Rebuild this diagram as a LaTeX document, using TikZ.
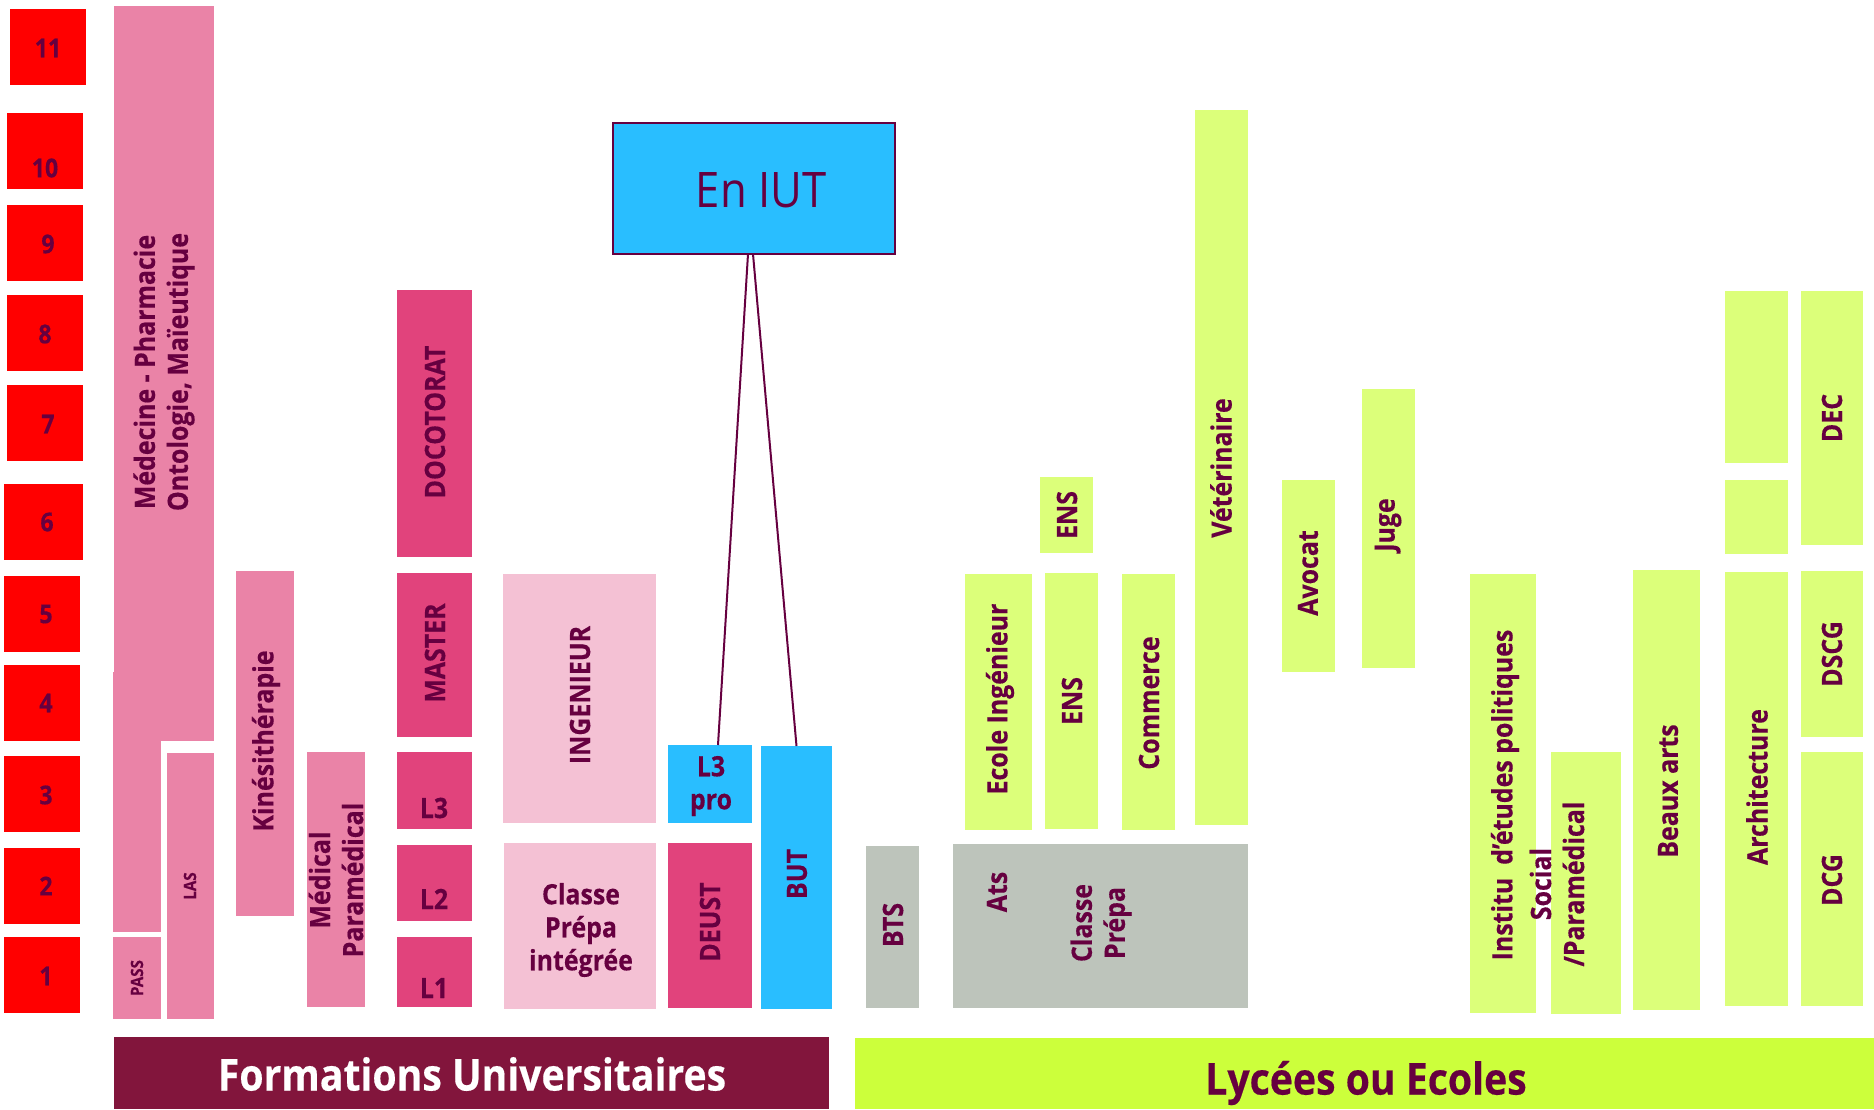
\documentclass[tikz,border=0pt]{standalone}
\usepackage{fontspec}
\setmainfont{Open Sans}[FakeStretch=0.89,BoldFeatures={FakeBold=0.4}]
\usetikzlibrary{fit,calc}

\definecolor{ink}{RGB}{102,0,64}
\definecolor{yearred}{RGB}{255,0,0}
\definecolor{pinkmed}{RGB}{234,131,167}
\definecolor{pinkuni}{RGB}{225,67,124}
\definecolor{pinklight}{RGB}{244,193,212}
\definecolor{iutblue}{RGB}{41,190,255}
\definecolor{greybox}{RGB}{189,196,187}
\definecolor{limebox}{RGB}{220,255,122}
\definecolor{limebar}{RGB}{204,255,59}
\definecolor{maroonbar}{RGB}{130,21,60}

% a filled block given by two opposite corners (pixel units, y downwards)
\newcommand{\blk}[6]{\node[blockbox,fill=#2,fit={(#3,#4) (#5,#6)}] (#1) {};}

\begin{document}
\begin{tikzpicture}[x=0.5pt,y=-0.5pt,
  blockbox/.style={inner sep=0pt,outer sep=0pt,draw=none},
  vtxt/.style={rotate=90,align=center,text=ink,inner sep=0pt,
    font=\bfseries\fontsize{14}{16.5}\selectfont},
  htxt/.style={align=center,text=ink,inner sep=0pt,
    font=\bfseries\fontsize{14}{16.5}\selectfont},
  tiny/.style={vtxt,font=\bfseries\fontsize{8.5}{10}\selectfont},
  yeartxt/.style={text=ink,inner sep=0pt,font=\bfseries\fontsize{13}{15}\selectfont},
  bartxt/.style={inner sep=0pt,font=\bfseries\fontsize{22}{26}\selectfont},
  link/.style={draw=ink,line width=1pt}]

\useasboundingbox (0,0) rectangle (1874,1109);

% ---- year scale
\blk{r11}{yearred}{10}{9}{86}{85}
\blk{r10}{yearred}{7}{113}{83}{189}
\blk{r9}{yearred}{7}{205}{83}{281}
\blk{r8}{yearred}{7}{295}{83}{371}
\blk{r7}{yearred}{7}{385}{83}{461}
\blk{r6}{yearred}{4}{484}{83}{560}
\blk{r5}{yearred}{4}{576}{80}{652}
\blk{r4}{yearred}{4}{665}{80}{741}
\blk{r3}{yearred}{4}{756}{80}{832}
\blk{r2}{yearred}{4}{848}{80}{924}
\blk{r1}{yearred}{4}{937}{80}{1013}
\node[yeartxt] (n11) at (48,48) {11};
\node[yeartxt] (n10) at (45,168) {10};
\node[yeartxt] (n9) at (48,244) {9};
\node[yeartxt] (n8) at (45,334) {8};
\node[yeartxt] (n7) at (48,424) {7};
\node[yeartxt] (n6) at (47,522) {6};
\node[yeartxt] (n5) at (46,614) {5};
\node[yeartxt] (n4) at (46,703) {4};
\node[yeartxt] (n3) at (46,795) {3};
\node[yeartxt] (n2) at (46,886) {2};
\node[yeartxt] (n1) at (46,976) {1};

% ---- university tracks
\blk{med}{pinkmed}{114}{6}{214}{741}
\blk{medlow}{pinkmed}{113}{672}{161}{932}
\blk{pass}{pinkmed}{113}{937}{161}{1019}
\blk{las}{pinkmed}{167}{753}{214}{1019}
\blk{kine}{pinkmed}{236}{571}{294}{916}
\blk{medical}{pinkmed}{307}{752}{365}{1007}
\blk{doc}{pinkuni}{397}{290}{472}{557}
\blk{master}{pinkuni}{397}{573}{472}{737}
\blk{lic3}{pinkuni}{397}{752}{472}{829}
\blk{lic2}{pinkuni}{397}{845}{472}{921}
\blk{lic1}{pinkuni}{397}{937}{472}{1007}
\blk{ing}{pinklight}{503}{574}{656}{823}
\blk{cpi}{pinklight}{504}{843}{656}{1009}
\blk{l3pro}{iutblue}{668}{745}{752}{823}
\blk{deust}{pinkuni}{668}{843}{752}{1008}
\blk{but}{iutblue}{761}{746}{832}{1009}

\node[vtxt] (tmed) at (164,372) {Médecine - Pharmacie\\Ontologie, Maïeutique};
\node[tiny] (tpass) at (137,978) {PASS};
\node[tiny] (tlas) at (190,886) {LAS};
\node[vtxt] (tkine) at (266,741) {Kinésithérapie};
\node[vtxt] (tmedical) at (336,880) {Médical\\Paramédical};
\node[vtxt] (tdoc) at (435,422) {DOCOTORAT};
\node[vtxt] (tmaster) at (435,653) {MASTER};
\node[htxt] (tl3) at (434,808) {L3};
\node[htxt] (tl2) at (434,899) {L2};
\node[htxt] (tl1) at (434,988) {L1};
\node[vtxt] (ting) at (580,695) {INGENIEUR};
\node[htxt] (tcpi) at (581,930) {Classe\\Prépa\\intégrée};
\node[htxt] (tl3pro) at (711,786) {L3\\pro};
\node[vtxt] (tdeust) at (710,922) {DEUST};
\node[vtxt] (tbut) at (797,874) {BUT};

% ---- IUT box and its two links
\node[blockbox,draw=ink,line width=1.2pt,fill=iutblue,fit={(613,123) (895,254)}] (iut) {};
\node[text=ink,inner sep=0pt,font=\fontsize{24.5}{28}\selectfont] (tiut) at (761,190) {En IUT};
\draw[link] ($(iut.south)+(-6,0)$) -- ($(l3pro.north)+(8,0)$);
\draw[link] ($(iut.south)+(-1,0)$) -- (but.north);

% ---- lycées and schools
\blk{bts}{greybox}{866}{846}{919}{1008}
\blk{prep}{greybox}{953}{844}{1248}{1008}
\blk{ecole}{limebox}{965}{574}{1032}{830}
\blk{ensa}{limebox}{1040}{477}{1093}{553}
\blk{ensb}{limebox}{1045}{573}{1098}{829}
\blk{comm}{limebox}{1122}{574}{1175}{830}
\blk{vet}{limebox}{1195}{110}{1248}{825}
\blk{avocat}{limebox}{1282}{480}{1335}{672}
\blk{juge}{limebox}{1362}{389}{1415}{668}
\blk{iep}{limebox}{1470}{574}{1536}{1013}
\blk{social}{limebox}{1551}{752}{1621}{1014}
\blk{beaux}{limebox}{1633}{570}{1700}{1010}
\blk{archa}{limebox}{1725}{291}{1788}{463}
\blk{archb}{limebox}{1725}{480}{1788}{554}
\blk{arch}{limebox}{1725}{572}{1788}{1006}
\blk{dec}{limebox}{1801}{291}{1863}{545}
\blk{dscg}{limebox}{1801}{571}{1863}{737}
\blk{dcg}{limebox}{1801}{752}{1863}{1006}

\node[vtxt] (tbts) at (893,925) {BTS};
\node[vtxt] (tats) at (997,892) {Ats};
\node[vtxt] (tprep) at (1101,923) {Classe\\Prépa};
\node[vtxt] (tecole) at (1000,699) {Ecole Ingénieur};
\node[vtxt] (tensa) at (1067,515) {ENS};
\node[vtxt] (tensb) at (1072,701) {ENS};
\node[vtxt] (tcomm) at (1149,703) {Commerce};
\node[vtxt] (tvet) at (1221,468) {Vétérinaire};
\node[vtxt] (tavocat) at (1308,573) {Avocat};
\node[vtxt] (tjuge) at (1388,525) {Juge};
\node[vtxt] (tiep) at (1505,795) {Institu\ \ d’études politiques};
\node[vtxt] (tsocial) at (1557,884) {Social\\/Paramédical};
\node[vtxt] (tbeaux) at (1668,791) {Beaux arts};
\node[vtxt] (tarch) at (1757,787) {Architecture};
\node[vtxt] (tdec) at (1832,418) {DEC};
\node[vtxt] (tdscg) at (1832,654) {DSCG};
\node[vtxt] (tdcg) at (1832,880) {DCG};

% ---- footer bars
\blk{baruni}{maroonbar}{114}{1037}{829}{1109}
\blk{barlyc}{limebar}{855}{1038}{1874}{1109}
\node[bartxt,text=white] (tbaruni) at (472,1074) {Formations Universitaires};
\node[bartxt,text=ink] (tbarlyc) at (1366,1083) {Lycées ou Ecoles};

\end{tikzpicture}
\end{document}
